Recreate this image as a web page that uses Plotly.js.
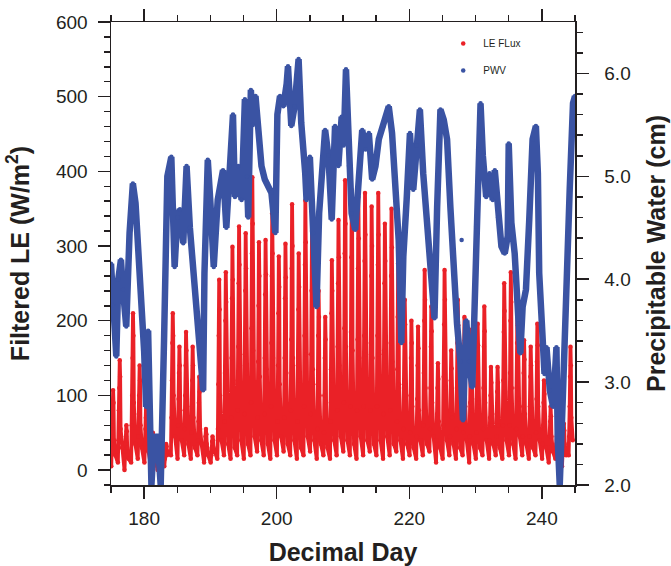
<!DOCTYPE html>
<html>
<head>
<meta charset="utf-8">
<script src="https://cdn.plot.ly/plotly-3.0.1.min.js"></script>
<style>html,body{margin:0;padding:0;background:#fff;}#chart{width:671px;height:566px;}</style>
</head>
<body>
<div id="chart"></div>
<script>
// ---- Data ----
// Latent-heat flux: one value per day for each sampled time of day
const leDay = [175,176,177,178,179,180,181,182,183,184,185,186,187,188,189,190,191,192,193,194,195,196,197,198,199,200,201,202,203,204,205,206,207,208,209,210,211,212,213,214,215,216,217,218,219,220,221,222,223,224,225,226,227,228,229,230,231,232,233,234,235,236,237,238,239,240,241,242,243,244];
const leSampleFrac = [0.04, 0.13, 0.20, 0.26, 0.32, 0.38, 0.45, 0.66]; // fraction of day of each sample
const leNight   = [5,10,0,10,15,10,5,0,5,20,15,20,15,20,10,10,15,20,15,20,15,20,25,20,15,20,25,20,15,20,25,15,20,15,20,25,20,15,20,25,20,15,20,25,15,20,15,20,25,10,15,20,15,20,10,15,20,15,20,15,20,15,20,15,20,15,10,15,5,20];
const leEarly   = [35,40,25,60,45,35,20,15,15,70,60,55,50,40,25,20,55,65,70,80,75,90,70,75,85,65,70,80,65,85,75,55,50,65,80,90,85,80,85,80,85,75,80,65,55,50,45,60,55,40,60,45,55,50,45,50,55,40,45,60,60,55,45,45,50,35,30,25,25,45];
const leMid     = [50,80,35,100,75,55,30,25,20,120,95,100,85,65,35,30,115,130,150,165,155,190,145,150,170,140,150,175,140,180,155,115,100,135,165,190,185,175,180,170,180,160,170,135,110,100,95,130,110,75,125,80,110,100,90,95,110,70,75,120,130,110,85,85,95,60,45,35,40,85];
const leHigh    = [60,110,45,150,100,70,40,35,30,170,130,140,120,90,45,38,180,200,230,250,240,290,220,235,260,210,230,270,215,275,240,180,150,210,250,290,285,270,280,260,275,250,260,205,170,150,140,200,165,110,195,120,170,150,140,145,165,100,105,185,200,170,130,125,145,90,65,45,50,125];
const lePeak    = [107,147,60,210,140,95,50,45,35,210,165,185,165,125,55,45,255,265,299,326,317,392,305,308,344,286,303,356,290,361,320,240,205,281,335,388,375,366,371,353,371,330,350,277,228,200,192,268,219,143,268,160,228,205,188,196,219,138,138,250,265,228,174,165,196,120,85,58,62,165];
const leHigh2   = [90,125,52,180,120,80,45,40,32,180,140,160,140,105,48,40,215,225,255,275,270,330,260,262,290,245,258,300,245,305,272,205,175,240,285,330,320,310,315,300,315,280,298,235,195,170,163,228,186,122,228,136,194,174,160,167,186,117,117,213,225,194,148,140,167,102,72,50,53,140];
const leLate    = [40,55,30,90,60,45,30,25,20,100,80,95,70,55,35,30,100,110,120,140,130,160,125,135,150,115,130,150,120,155,135,100,90,120,140,165,160,150,155,150,155,140,145,115,95,85,80,110,90,65,110,70,95,85,80,85,90,60,60,105,110,95,75,70,85,55,45,35,35,70];
const leEvening = [20,30,15,35,30,25,15,10,25,45,40,35,30,35,20,25,40,35,30,40,35,45,40,35,40,45,35,40,30,45,40,35,30,40,45,40,35,45,40,35,40,45,35,40,35,30,40,35,45,30,40,35,30,40,35,30,40,35,30,40,35,45,35,30,40,30,25,20,20,40];

// Precipitable water vapour (cm)
const pwvDay = [175.0,175.3,175.8,176.1,176.5,176.8,177.3,177.8,178.3,178.7,179.1,179.6,180.0,180.3,180.6,181.1,181.5,182.0,182.5,183.0,183.5,184.1,184.6,185.0,185.4,185.9,186.4,186.9,187.4,187.9,188.4,188.9,189.1,189.6,190.0,190.5,191.1,191.9,192.4,192.9,193.4,193.7,194.2,194.7,195.2,195.5,195.7,196.1,196.4,196.8,197.2,197.7,198.2,198.7,199.2,199.8,200.1,200.5,201.0,201.5,201.7,202.2,202.7,203.3,203.7,204.3,204.5,205.0,205.5,206.0,206.4,206.8,207.3,207.8,208.3,208.8,209.3,209.8,210.1,210.45,210.9,211.3,211.85,212.4,212.9,213.4,213.9,214.4,214.9,215.4,216.1,216.9,217.4,217.9,218.4,218.8,219.1,219.6,220.1,220.6,221.1,221.6,222.1,222.7,223.2,223.8,224.2,224.7,225.2,225.7,226.2,226.7,227.2,227.7,228.1,228.6,229.0,229.5,229.8,230.1,230.4,230.75,231.1,231.6,232.1,232.6,232.9,233.4,233.9,234.4,234.85,235.0,235.4,235.9,236.4,236.75,237.1,237.6,238.1,238.6,239.1,239.4,239.6,240.0,240.4,240.7,241.2,241.7,242.2,242.4,242.7,243.2,243.7,244.2,244.7,245.0];
const pwvVal = [4.15,3.75,3.25,4.0,4.19,3.9,3.54,4.45,4.93,4.74,4.3,3.86,3.3,2.76,3.5,2.0,2.47,2.47,2.0,3.4,5.0,5.19,4.12,4.6,4.68,4.35,5.1,4.5,4.12,3.7,3.44,2.92,4.06,5.16,4.74,4.12,4.77,5.06,4.5,5.1,5.6,4.8,5.1,4.77,5.75,5.0,4.6,5.84,5.5,5.78,5.42,5.1,4.97,4.9,4.84,4.45,5.6,5.78,5.68,5.9,6.07,5.49,5.68,6.14,5.52,5.03,4.77,5.19,4.45,3.73,4.64,5.03,5.45,5.2,4.58,5.49,5.1,5.58,5.3,6.04,5.1,4.64,4.48,4.97,5.45,5.26,5.42,4.97,5.1,5.36,5.49,5.68,5.42,4.97,4.38,3.38,4.22,4.77,5.42,4.87,5.3,5.65,5.03,4.51,4.06,3.62,4.7,5.65,5.55,5.36,4.7,4.06,3.57,3.2,2.63,3.6,3.2,2.95,3.57,4.51,5.26,5.71,5.2,4.8,5.03,4.77,5.06,4.6,4.32,4.25,4.42,5.32,4.55,4.25,3.57,3.28,3.73,3.9,4.58,5.36,5.49,5.03,4.06,3.57,3.08,3.34,2.92,2.76,3.34,2.43,2.0,2.92,4.06,4.87,5.71,5.78];
const pwvOutDay = [227.9];
const pwvOutVal = [4.38];

const legendNames = ['LE FLux', 'PWV'];

// ---- Build trace arrays ----
const leRows = [leNight, leEarly, leMid, leHigh, lePeak, leHigh2, leLate, leEvening];
const leX = [], leY = [];
for (let i = 0; i < leDay.length; i++) {
  for (let j = 0; j < leSampleFrac.length; j++) {
    leX.push(leDay[i] + leSampleFrac[j]);
    leY.push(leRows[j][i]);
  }
}

const RED = '#ea2127';
const BLUE = '#3a53a3';
const INK = '#231f20';
const FONT = 'Liberation Sans, Arial, Helvetica, sans-serif';

const traces = [
  {x: leX, y: leY, type: 'scatter', mode: 'lines', line: {color: RED, width: 3.8}, showlegend: false, hoverinfo: 'skip'},
  {x: leX, y: leY, type: 'scatter', mode: 'markers', name: legendNames[0], legendgroup: 'a',
   marker: {color: RED, size: 4.5}},
  {x: pwvDay, y: pwvVal, yaxis: 'y2', type: 'scatter', mode: 'lines', line: {color: BLUE, width: 6.5}, showlegend: false, hoverinfo: 'skip'},
  {x: pwvDay.concat(pwvOutDay), y: pwvVal.concat(pwvOutVal), yaxis: 'y2', type: 'scatter', mode: 'markers', name: legendNames[1], legendgroup: 'b',
   marker: {color: BLUE, size: 4.5}}
];

const tickCommon = {ticks: 'outside', ticklen: 12, tickwidth: 1.5, tickcolor: INK,
  showline: true, linewidth: 1.5, linecolor: INK, showgrid: false, zeroline: false,
  tickfont: {family: FONT, size: 19, color: INK}};

const layout = {
  width: 671, height: 566,
  margin: {l: 111, r: 96, t: 22, b: 81},
  paper_bgcolor: '#ffffff', plot_bgcolor: '#ffffff',
  font: {family: FONT, color: INK},
  showlegend: true,
  legend: {x: 0.716, y: 0.985, xanchor: 'left', yanchor: 'top', bgcolor: 'rgba(0,0,0,0)',
    font: {family: FONT, size: 10, color: INK}, tracegroupgap: 8},
  xaxis: Object.assign({}, tickCommon, {
    range: [175, 245], tick0: 180, dtick: 20, mirror: 'ticks',
    minor: {tick0: 175, dtick: 5, ticks: 'outside', ticklen: 6, tickwidth: 1.5, tickcolor: INK, showgrid: false},
    ticklabelstandoff: 4,
    title: {text: 'Decimal Day', font: {family: FONT, size: 25, color: INK, weight: 700}, standoff: 18}
  }),
  yaxis: Object.assign({}, tickCommon, {
    range: [-20, 600], tick0: 0, dtick: 100,
    minor: {dtick: 20, ticks: 'outside', ticklen: 6, tickwidth: 1.5, tickcolor: INK, showgrid: false},
    ticklabelstandoff: 6,
    title: {text: 'Filtered LE (W/m<sup>2</sup>)', font: {family: FONT, size: 25, color: INK, weight: 700}, standoff: 19}
  }),
  yaxis2: Object.assign({}, tickCommon, {
    overlaying: 'y', side: 'right', anchor: 'x',
    range: [2.0, 6.5], tick0: 2, dtick: 1, tickformat: '.1f',
    minor: {dtick: 0.2, ticks: 'outside', ticklen: 6, tickwidth: 1.5, tickcolor: INK, showgrid: false},
    ticklabelstandoff: 12,
    title: {text: 'Precipitable Water (cm)', font: {family: FONT, size: 25, color: INK, weight: 700}, standoff: 18}
  })
};

Plotly.newPlot('chart', traces, layout, {displayModeBar: false, staticPlot: true});
</script>
</body>
</html>
